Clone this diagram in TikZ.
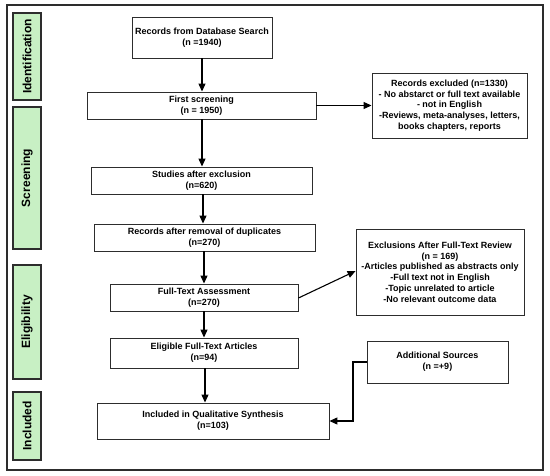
\documentclass[tikz,border=0pt]{standalone}
\usepackage{fontspec}
\setmainfont{Liberation Sans}
\usetikzlibrary{arrows.meta}
\definecolor{stagegreen}{RGB}{200,240,196}
\definecolor{boxline}{RGB}{45,45,45}
\tikzset{
  box/.style={draw=boxline, line width=0.9pt, fill=white, align=center, inner sep=1pt,
    font=\bfseries\fontsize{9}{10.8}\selectfont},
  stage/.style={draw=boxline, line width=1.6pt, fill=stagegreen, rotate=90, inner sep=0pt,
    font=\bfseries\fontsize{12}{14}\selectfont},
  arr/.style={line width=1.1pt, draw=black, -{Triangle[length=8pt,width=7pt]}}
}
\begin{document}
\begin{tikzpicture}[x=1pt,y=-1pt]
\useasboundingbox (0,0) rectangle (550,476);
\draw[line width=1.2pt, draw=boxline] (7,5) rectangle (543,470);
% stages
\node[stage, minimum width=87pt, minimum height=28pt] (sid) at (27,56.5) {Identification};
\node[stage, minimum width=142pt, minimum height=28pt] (ssc) at (27,178) {Screening};
\node[stage, minimum width=114pt, minimum height=28pt] (sel) at (27,322) {Eligibility};
\node[stage, minimum width=68pt, minimum height=28pt] (sin) at (27,426) {Included};
% boxes
\node[box, minimum width=140pt, minimum height=41pt] (db) at (202,37.5) {Records from Database Search\\(n =1940)};
\node[box, minimum width=229pt, minimum height=27pt] (fs) at (201.5,105.5) {First screening\\(n = 1950)};
\node[box, minimum width=155pt, minimum height=65pt] (rex) at (449.5,105.5) {Records excluded (n=1330)\\- No abstarct or full text available\\- not in English\\-Reviews, meta-analyses, letters,\\books chapters, reports};
\node[box, minimum width=221pt, minimum height=27pt] (sae) at (201.5,180.5) {Studies after exclusion\\(n=620)};
\node[box, minimum width=221pt, minimum height=27pt] (rad) at (204.5,237.5) {Records after removal of duplicates\\(n=270)};
\node[box, minimum width=188pt, minimum height=27pt] (fta) at (204,297.5) {Full-Text Assessment\\(n=270)};
\node[box, minimum width=168pt, minimum height=86pt] (eft) at (440,272) {Exclusions After Full-Text Review\\(n = 169)\\-Articles published as abstracts only\\-Full text not in English\\-Topic unrelated to article\\-No relevant outcome data};
\node[box, minimum width=188pt, minimum height=30pt] (elig) at (204,353) {Eligible Full-Text Articles\\(n=94)};
\node[box, minimum width=232pt, minimum height=36pt] (inc) at (213,421) {Included in Qualitative Synthesis\\(n=103)};
\node[box, minimum width=141pt, minimum height=42pt] (add) at (437.5,362) {Additional Sources\\(n =+9)};
% connectors
\draw[arr] (db.south) -- (db.south |- fs.north);
\draw[arr] ([xshift=0.5pt]fs.south) -- ([xshift=0.5pt]fs.south |- sae.north);
\draw[arr] ([xshift=1.5pt]sae.south) -- ([xshift=1.5pt]sae.south |- rad.north);
\draw[arr] ([xshift=-0.5pt]rad.south) -- ([xshift=-0.5pt]rad.south |- fta.north);
\draw[arr] (fta.south) -- (fta.south |- elig.north);
\draw[arr] ([xshift=1pt]elig.south) -- ([xshift=1pt]elig.south |- inc.north);
\draw[arr] (fs.east) -- (rex.west |- fs.east);
\draw[arr] ([yshift=-0.5pt]fta.east) -- ([yshift=1pt]eft.west);
\coordinate (bend) at (353,0);
\draw[arr] (add.west) -- (bend |- add.west) -- (bend |- inc.east) -- (inc.east);
\end{tikzpicture}
\end{document}
